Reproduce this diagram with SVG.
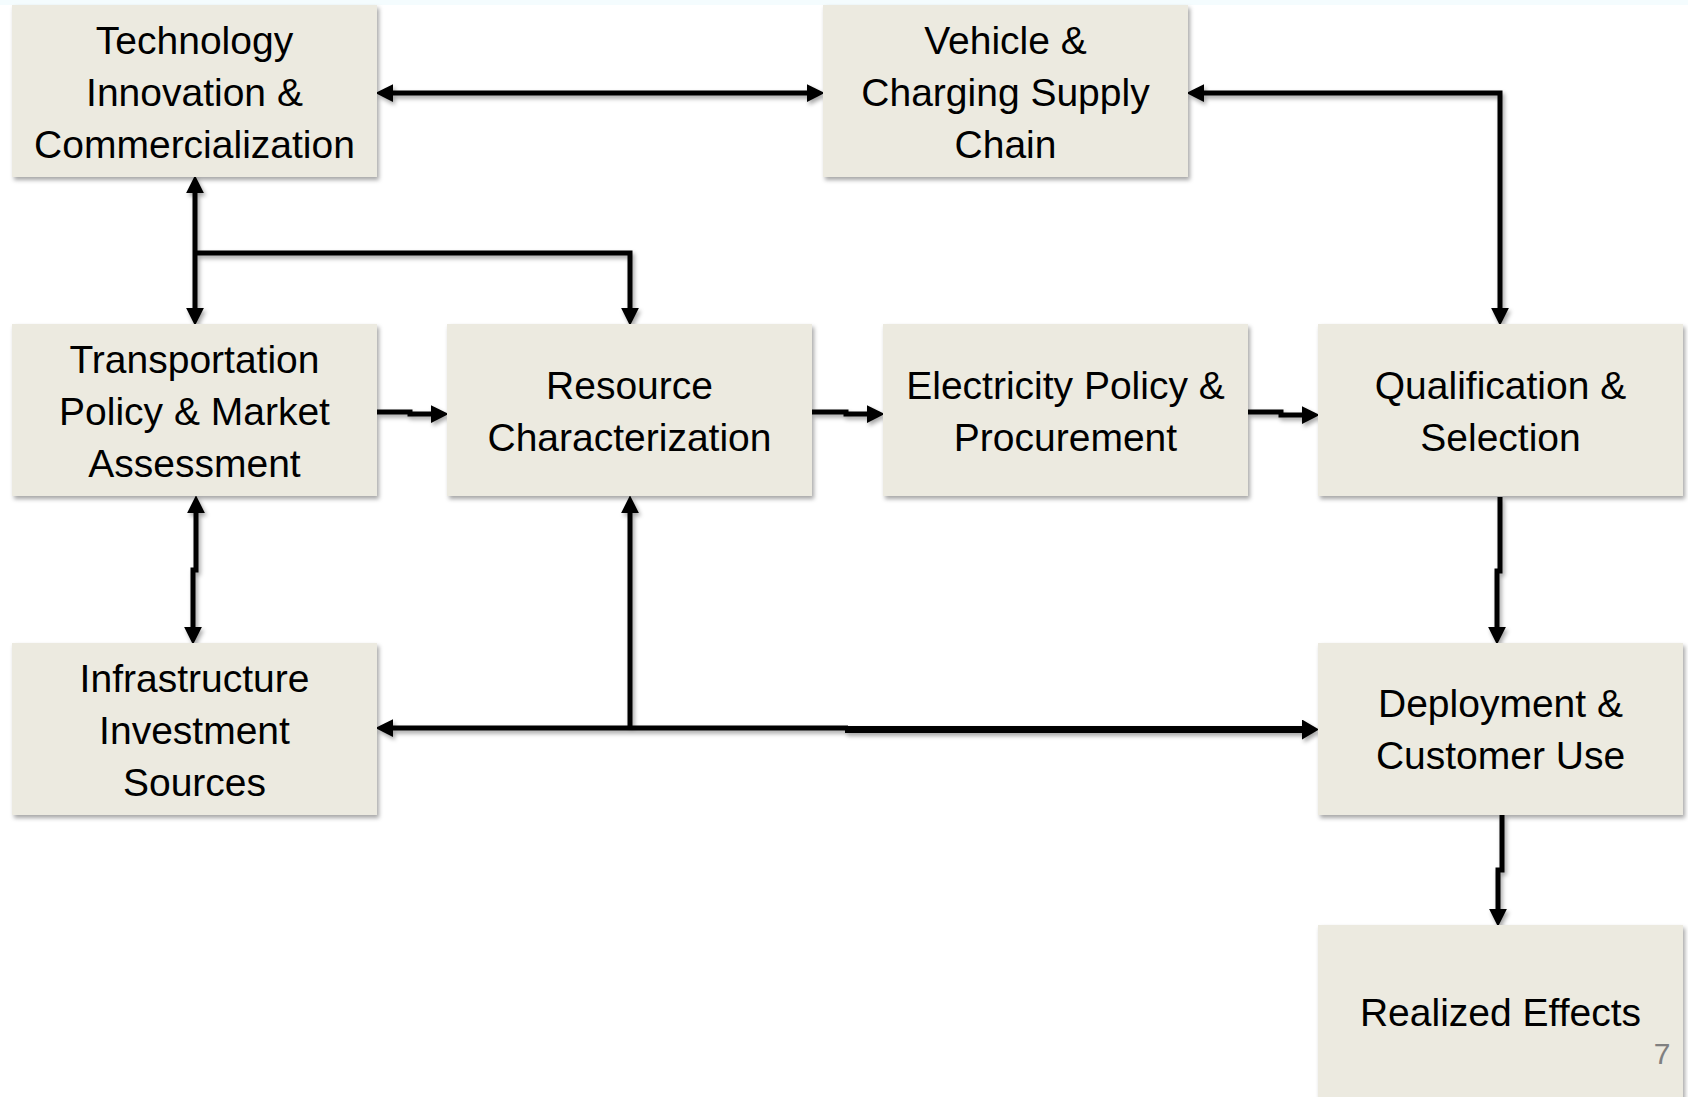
<svg xmlns="http://www.w3.org/2000/svg" width="1688" height="1097" viewBox="0 0 1688 1097">
<style>
.box{fill:#ECEAE0;filter:url(#sh)}
.t{font-family:"Liberation Sans",Arial,sans-serif;font-size:39px;fill:#000;text-anchor:middle}
.c{fill:none;stroke:#000;stroke-width:5;stroke-linejoin:miter}
.ck{fill:none;stroke:#000;stroke-width:7}
.pg{font-family:"Liberation Sans",Arial,sans-serif;font-size:30px;fill:#808080;text-anchor:middle}
</style>
<defs>
<filter id="sh" x="-10%" y="-10%" width="125%" height="130%">
<feDropShadow dx="2" dy="3" stdDeviation="2" flood-color="#000" flood-opacity="0.35"/>
</filter>
<marker id="a" markerUnits="userSpaceOnUse" markerWidth="18" markerHeight="18" refX="2" refY="8" orient="auto-start-reverse" viewBox="0 0 16 16">
<path d="M0,0 L16,8 L0,16 z" fill="#000"/>
</marker>
<marker id="aL" markerUnits="userSpaceOnUse" markerWidth="17" markerHeight="20" refX="2" refY="10" orient="auto-start-reverse" viewBox="0 0 17 20">
<path d="M0,0 L17,10 L0,20 z" fill="#000"/>
</marker>
</defs>
<rect x="0" y="0" width="1688" height="1097" fill="#FFFFFF"/>
<rect x="0" y="0" width="1688" height="5" fill="#F4FCFE"/>

<g id="connectors" filter="url(#sh)">
<path class="c" d="M391 93 H809" marker-start="url(#a)" marker-end="url(#a)"/>
<path class="c" d="M1202 93 H1500 V310" marker-start="url(#a)" marker-end="url(#a)"/>
<path class="c" d="M195 191 V310" marker-start="url(#a)" marker-end="url(#a)"/>
<path class="c" d="M195 253 H630 V310" marker-end="url(#a)"/>
<path class="c" d="M377 412 H410 V414 H433" marker-end="url(#a)"/>
<path class="c" d="M812 412 H846 V414 H869" marker-end="url(#a)"/>
<path class="c" d="M1248 412 H1281 V415 H1304" marker-end="url(#a)"/>
<path class="c" d="M196 511 V570 H193 V629" marker-start="url(#a)" marker-end="url(#a)"/>
<path class="c" d="M1500 497 V571 H1497 V629" marker-end="url(#a)"/>
<path class="c" d="M1502 815 V870 H1498 V911" marker-end="url(#a)"/>
<path class="c" d="M391 728 H848" marker-start="url(#a)"/>
<path class="c" d="M630 728 V511" marker-end="url(#a)"/>
<path class="ck" d="M845 729.5 H1304" marker-end="url(#aL)"/>
</g>

<g id="n-tech">
<rect class="box" x="12" y="5" width="365" height="172"/>
<text class="t" x="194.5" y="54">Technology</text>
<text class="t" x="194.5" y="106">Innovation &amp;</text>
<text class="t" x="194.5" y="158">Commercialization</text>
</g>
<g id="n-vehicle">
<rect class="box" x="823" y="5" width="365" height="172"/>
<text class="t" x="1005.5" y="54">Vehicle &amp;</text>
<text class="t" x="1005.5" y="106">Charging Supply</text>
<text class="t" x="1005.5" y="158">Chain</text>
</g>
<g id="n-transport">
<rect class="box" x="12" y="324" width="365" height="172"/>
<text class="t" x="194.5" y="373">Transportation</text>
<text class="t" x="194.5" y="425">Policy &amp; Market</text>
<text class="t" x="194.5" y="477">Assessment</text>
</g>
<g id="n-resource">
<rect class="box" x="447" y="324" width="365" height="172"/>
<text class="t" x="629.5" y="399">Resource</text>
<text class="t" x="629.5" y="451">Characterization</text>
</g>
<g id="n-electricity">
<rect class="box" x="883" y="324" width="365" height="172"/>
<text class="t" x="1065.5" y="399">Electricity Policy &amp;</text>
<text class="t" x="1065.5" y="451">Procurement</text>
</g>
<g id="n-qualification">
<rect class="box" x="1318" y="324" width="365" height="172"/>
<text class="t" x="1500.5" y="399">Qualification &amp;</text>
<text class="t" x="1500.5" y="451">Selection</text>
</g>
<g id="n-infrastructure">
<rect class="box" x="12" y="643" width="365" height="172"/>
<text class="t" x="194.5" y="692">Infrastructure</text>
<text class="t" x="194.5" y="744">Investment</text>
<text class="t" x="194.5" y="796">Sources</text>
</g>
<g id="n-deployment">
<rect class="box" x="1318" y="643" width="365" height="172"/>
<text class="t" x="1500.5" y="717">Deployment &amp;</text>
<text class="t" x="1500.5" y="769">Customer Use</text>
</g>
<g id="n-realized">
<rect class="box" x="1318" y="925" width="365" height="180"/>
<text class="t" x="1500.5" y="1026">Realized Effects</text>
</g>
<text class="pg" x="1662" y="1064">7</text>
</svg>
